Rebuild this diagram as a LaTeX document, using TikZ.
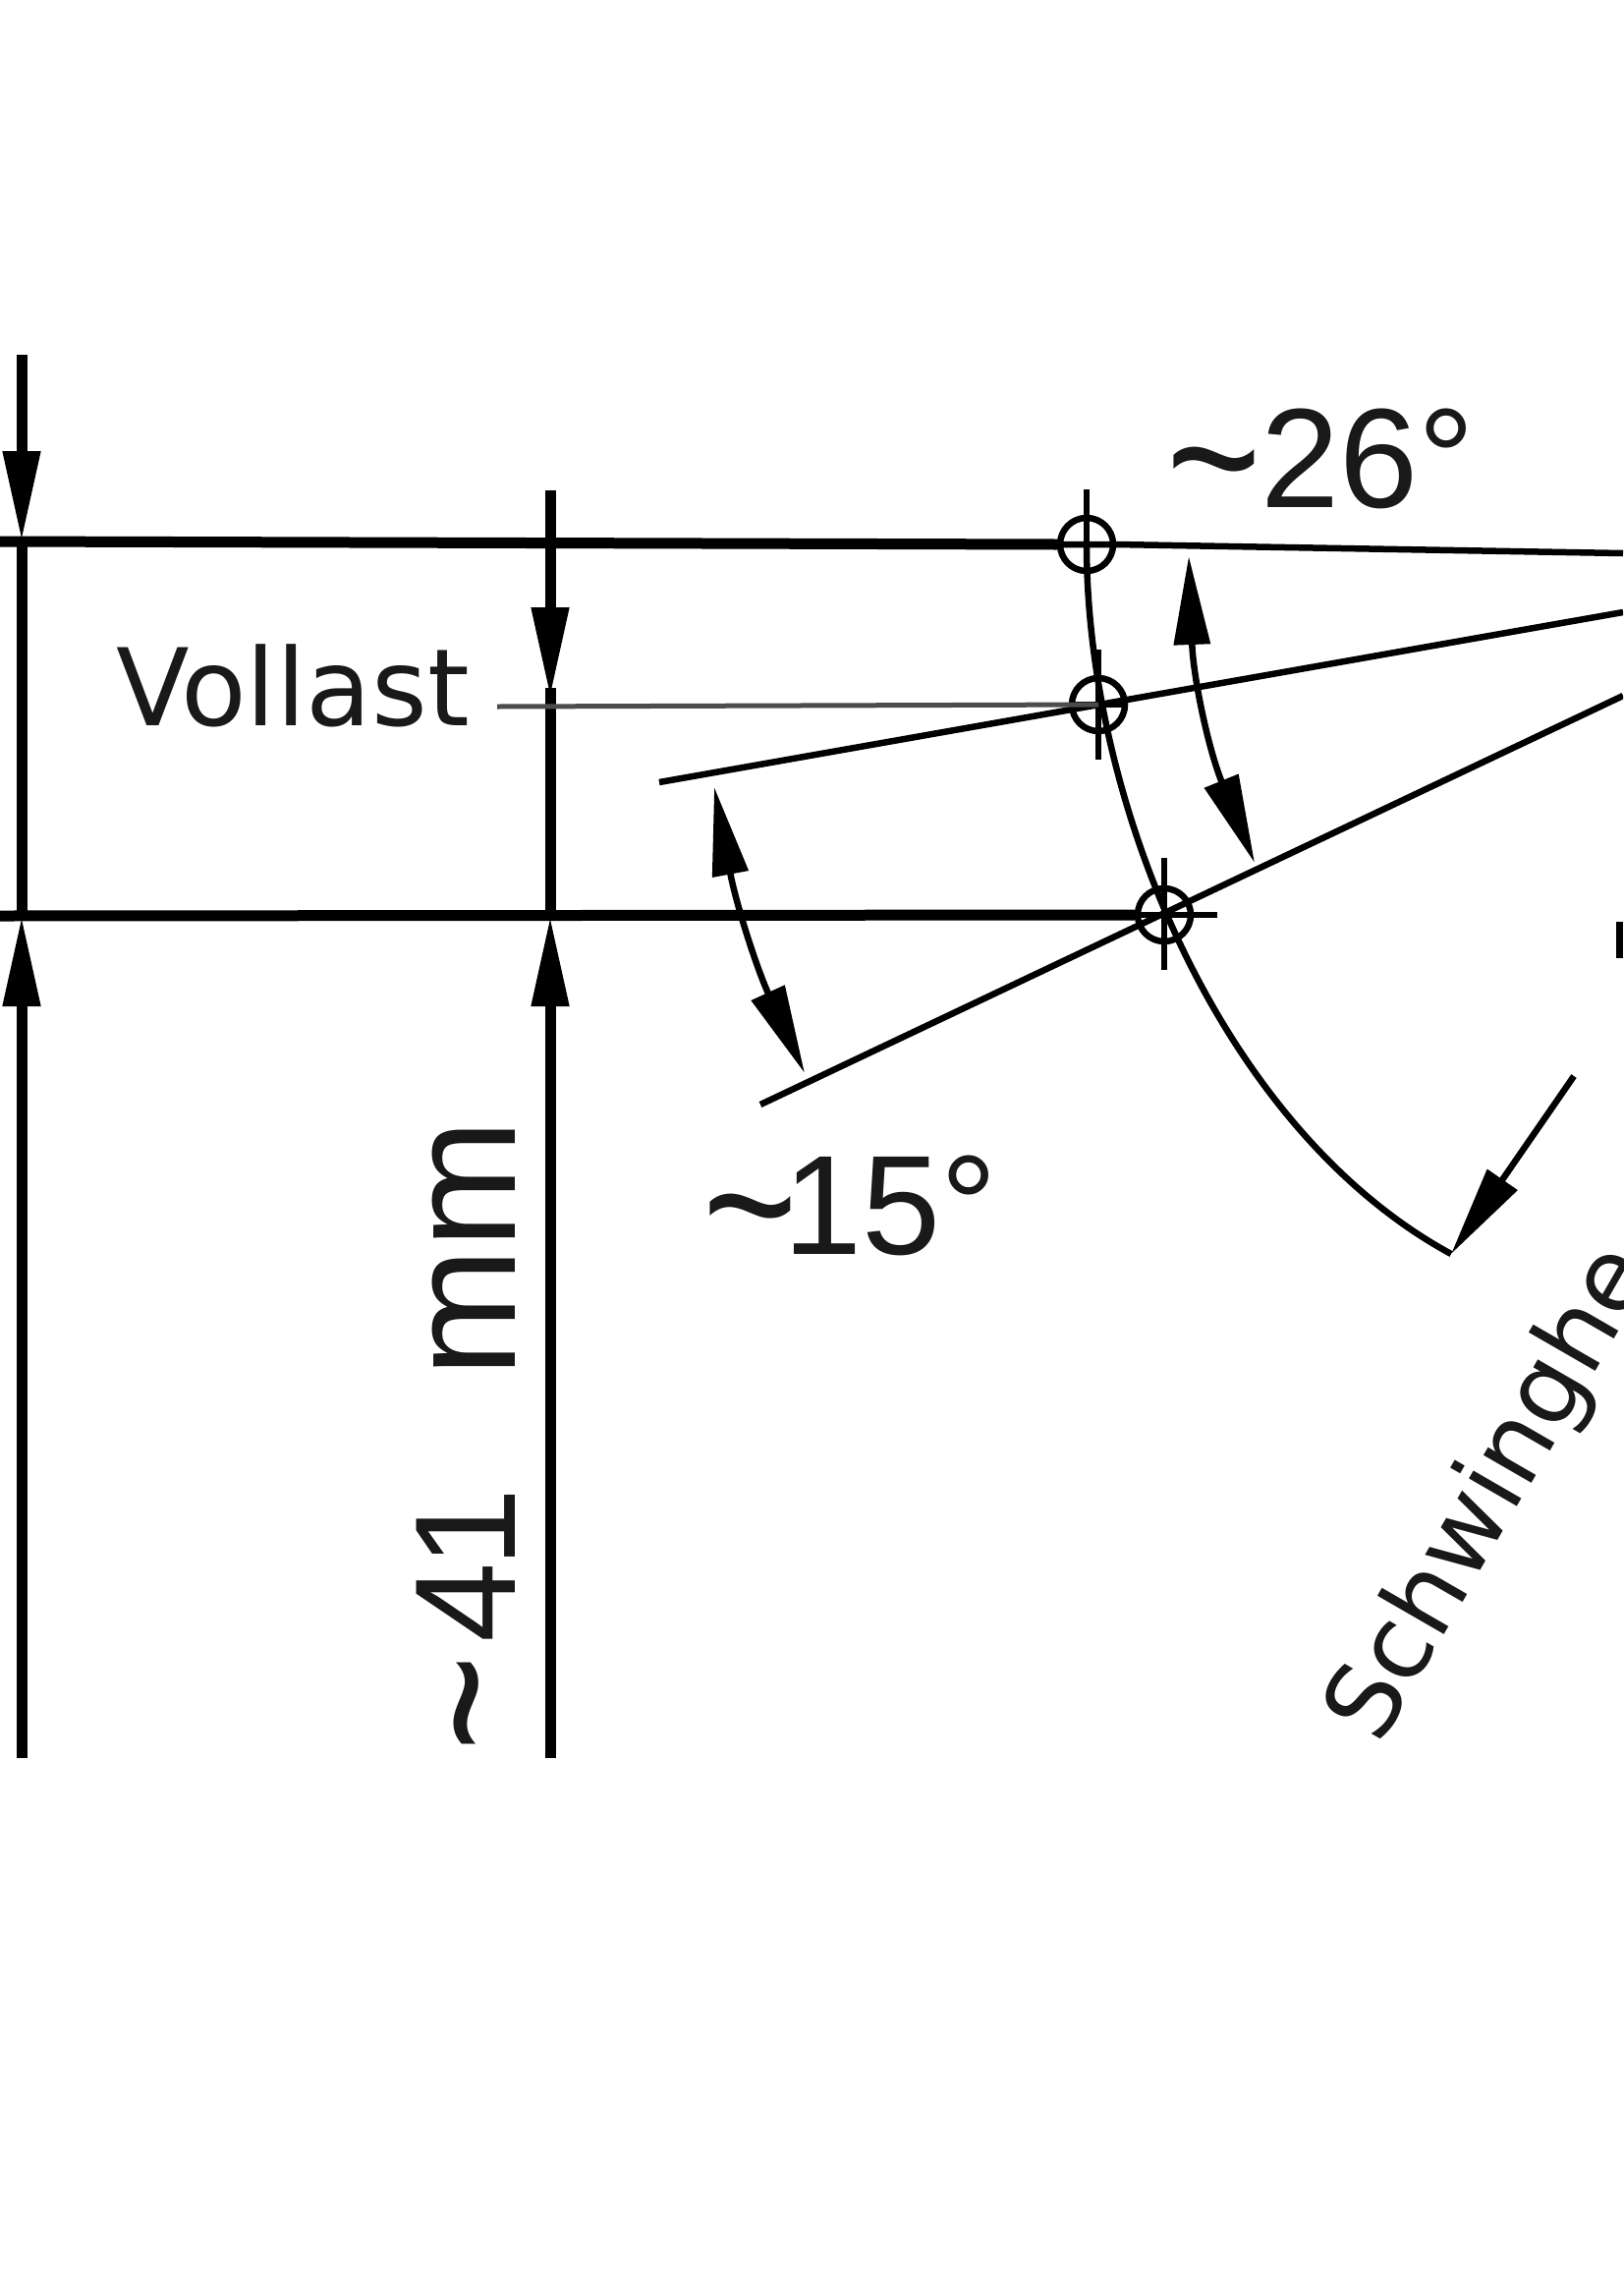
\documentclass[tikz,border=0pt]{standalone}
\usepackage{graphicx}
\usepackage{fontspec}
\setmainfont{Liberation Sans}
\newfontfamily\widefont{DejaVu Sans}
\usepackage{tikz}
\usetikzlibrary{arrows.meta,positioning}
\newcommand*{\apx}{\raisebox{-0.13em}{\scalebox{1.15}[1.4]{\char"007E}}}
\tikzset{
  heavy/.style={line width=11pt},
  light/.style={line width=6.5pt},
  dimtip/.style={-{Triangle[length=92pt,width=36pt]}},
  dimtips/.style={{Triangle[length=90pt,width=36pt]}-{Triangle[length=90pt,width=36pt]}},
  pivot/.style={circle, draw=black, line width=6.5pt, minimum size=54pt, inner sep=0pt},
  lbl/.style={inner sep=0pt, outer sep=0pt, text=black!90}
}
\begin{document}
\begin{tikzpicture}[x=1pt,y=-1pt]
      \clip (0,0) rectangle (1652,2313);
      \fill[white] (0,0) rectangle (1652,2313);
      % pivots
      \node[pivot] (p1) at (1106,554) {};
      \node[pivot] (p2) at (1118,717) {};
      \node[pivot] (p3) at (1185,931) {};
      \coordinate (topleft) at (0,551);
      \coordinate (botleft) at (0,932);
      \coordinate (topright) at (1652,563);
      \coordinate (midright) at (1652,623);
      \coordinate (midleft) at (671,796);
      \coordinate (lowright) at (1652,708);
      \coordinate (lowleft) at (774,1124);
      \coordinate (arcend) at (1477,1276);
      \coordinate (swingtail) at (1602,1095);
      % levels
      \draw[heavy] (topleft) -- (p1.west);
      \draw[heavy] (botleft) -- (p3.west);
      \draw[light] (p1.west) -- (p1.east) -- (topright);
      \draw[light] (midleft) -- (midright);
      \draw[light] (lowleft) -- (lowright);
      \draw[light] (p1.center) .. controls (1106,820) and (1245,1150) .. (arcend);
      % crosses
      \draw[light] (1106,498) -- (p1.center);
      \draw[light] (1118,661) -- (1118,773);
      \draw[light] (1090,717) -- (1146,717);
      \draw[light] (1185,873) -- (1185,987);
      \draw[light] (p3.west) -- (1239,931);
      % vertical dimensions
      \coordinate (a1) at (22,361);
      \coordinate (a2) at (22,1789);
      \coordinate (b1) at (560,499);
      \coordinate (b2) at (560,1789);
      \draw[heavy,dimtip] (a1) -- (22,551);
      \draw[heavy,dimtip] (a2) -- (22,932);
      \draw[heavy] (22,551) -- (22,932);
      \draw[heavy,dimtip] (b1) -- (560,710);
      \draw[heavy] (560,700) -- (560,932);
      \draw[heavy,dimtip] (b2) -- (560,932);
      % angles
      \coordinate (u1) at (1210,566);
      \coordinate (u2) at (1277,878);
      \coordinate (v1) at (727,801);
      \coordinate (v2) at (819,1092);
      \draw[light,dimtips] (u1) to[bend right=10] (u2);
      \draw[light,dimtips] (v1) to[bend right=7] (v2);
      \draw[light,dimtip] (swingtail) -- (arcend);
      % labels
      \node[lbl, anchor=base west, font=\fontsize{144}{144}\selectfont] (ang1) at (1187,516) {\apx 26°};
      \node[lbl, anchor=base west, font=\fontsize{144}{144}\selectfont] (ang2) at (715,1276) {\apx\hspace*{-14pt}15°};
      \node[lbl, anchor=base west, font=\widefont\fontsize{109}{109}\selectfont] (vollast) at (118,738) {Vollast};
      \draw[line width=5pt, black!70] (506,719) coordinate (lead) -- (p2.center);
      \node[lbl, anchor=base west, rotate=90, font=\fontsize{146}{146}\selectfont] (stroke) at (524,1782) {\apx\hspace*{12pt}4\hspace*{-5pt}1\hspace*{113pt}{\fontsize{157}{157}\selectfont mm}};
      \node[lbl, anchor=base west, rotate=60, font=\widefont\fontsize{103}{103}\selectfont] (swing) at (1404,1777) {Schwinghe};
      % cut off mark at the edge
      \fill (1645,938) rectangle (1652,975);
    \end{tikzpicture}
\end{document}
